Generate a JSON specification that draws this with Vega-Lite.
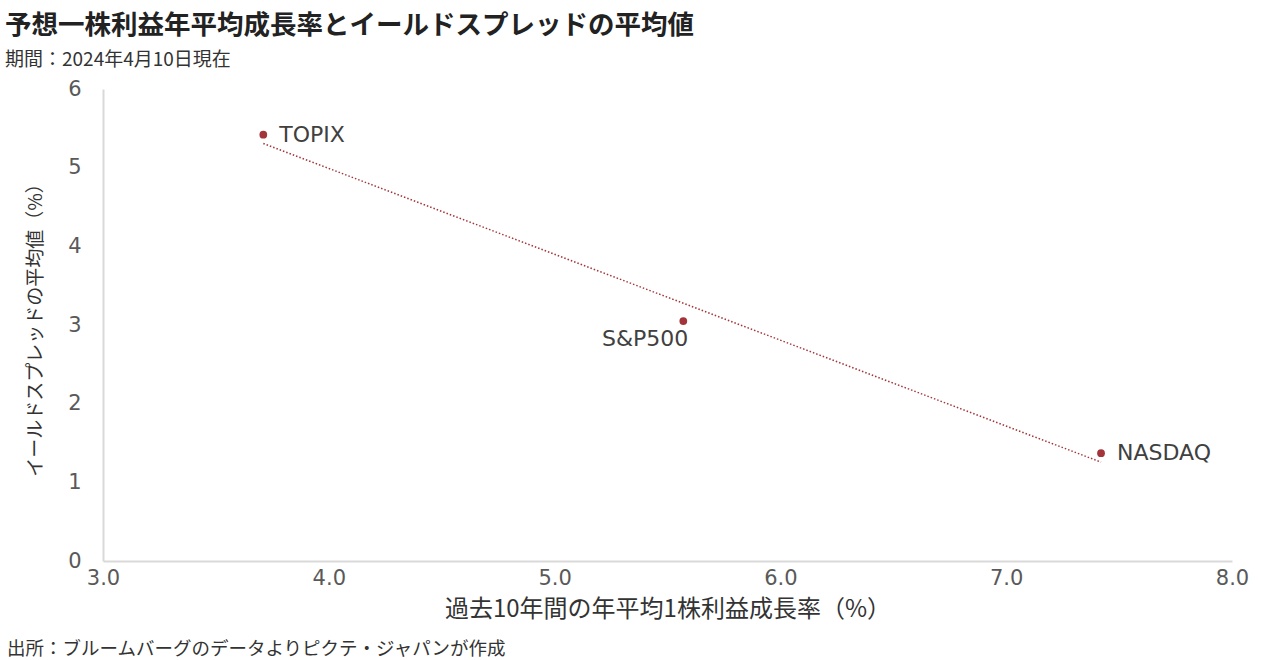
{
  "$schema": "https://vega.github.io/schema/vega-lite/v6.json",
  "background": "white",
  "padding": {"left": 5, "top": 12, "right": 5, "bottom": 2},
  "title": {
    "text": "出所：ブルームバーグのデータよりピクテ・ジャパンが作成",
    "orient": "bottom",
    "anchor": "start",
    "frame": "group",
    "font": "Noto Sans CJK JP",
    "fontSize": 18.5,
    "fontWeight": "normal",
    "color": "#333333",
    "offset": 19,
    "dx": -96
  },
  "vconcat": [
    {
      "width": 1129,
      "height": 472,
      "title": {
        "text": "予想一株利益年平均成長率とイールドスプレッドの平均値",
        "subtitle": "期間：2024年4月10日現在",
        "anchor": "start",
        "frame": "group",
        "dx": -98,
        "font": "Noto Sans CJK JP",
        "fontSize": 26.5,
        "fontWeight": "bold",
        "color": "#222222",
        "subtitleFont": "Noto Sans CJK JP",
        "subtitleFontSize": 19,
        "subtitleColor": "#333333",
        "subtitlePadding": 12,
        "offset": 8
      },
      "data": {
        "values": [
          {"index": "TOPIX", "eps_growth": 3.71, "yield_spread": 5.42},
          {"index": "S&P500", "eps_growth": 5.57, "yield_spread": 3.05},
          {"index": "NASDAQ", "eps_growth": 7.42, "yield_spread": 1.37}
        ]
      },
      "encoding": {
        "x": {
          "field": "eps_growth",
          "type": "quantitative",
          "scale": {"domain": [3, 8], "nice": false, "zero": false},
          "axis": {
            "title": "過去10年間の年平均1株利益成長率（%）",
            "values": [3, 4, 5, 6, 7, 8],
            "format": ".1f",
            "labelFlush": false,
            "labelPadding": 6,
            "titlePadding": 9,
            "titleFontSize": 24
          }
        },
        "y": {
          "field": "yield_spread",
          "type": "quantitative",
          "scale": {"domain": [0, 6], "nice": false},
          "axis": {
            "title": "イールドスプレッドの平均値（%）",
            "values": [0, 1, 2, 3, 4, 5, 6],
            "format": "d",
            "labelFlush": false,
            "labelPadding": 22,
            "titlePadding": 22,
            "titleFontSize": 19
          }
        }
      },
      "layer": [
        {
          "transform": [{"regression": "yield_spread", "on": "eps_growth"}],
          "mark": {"type": "line", "color": "#a3343a", "strokeWidth": 1.5, "strokeDash": [1.5, 2]}
        },
        {
          "mark": {"type": "circle", "color": "#a3343a", "opacity": 1, "size": 60}
        },
        {
          "transform": [{"filter": "datum.index !== 'S&P500'"}],
          "mark": {"type": "text", "align": "left", "baseline": "middle", "dx": 16, "font": "DejaVu Sans", "fontSize": 22, "color": "#404040"},
          "encoding": {"text": {"field": "index"}}
        },
        {
          "transform": [{"filter": "datum.index === 'S&P500'"}],
          "mark": {"type": "text", "align": "right", "baseline": "middle", "dx": 5, "dy": 18, "font": "DejaVu Sans", "fontSize": 22, "color": "#404040"},
          "encoding": {"text": {"field": "index"}}
        }
      ]
    }
  ],
  "config": {
    "view": {"stroke": null},
    "axis": {
      "grid": false,
      "ticks": false,
      "domainColor": "#d9d9d9",
      "domainWidth": 2,
      "labelFont": "DejaVu Sans",
      "labelFontSize": 21,
      "labelColor": "#595959",
      "titleFont": "Noto Sans CJK JP",
      "titleFontWeight": "normal",
      "titleColor": "#333333"
    }
  }
}
